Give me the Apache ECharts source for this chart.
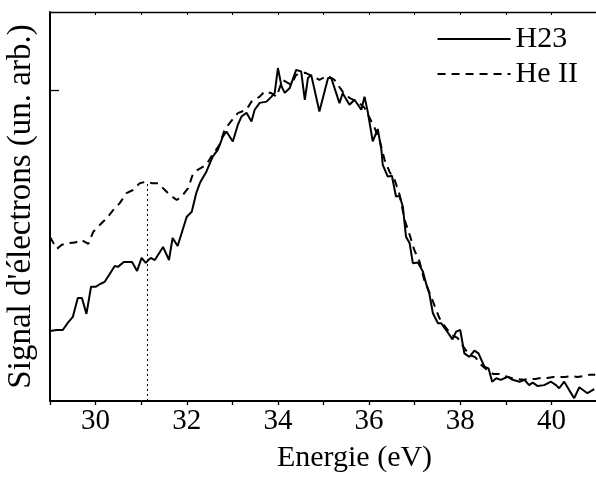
<!DOCTYPE html>
<html>
<head>
<meta charset="utf-8">
<script src="https://cdn.jsdelivr.net/npm/echarts@6/dist/echarts.min.js"></script>
<style>
  html, body { margin: 0; padding: 0; background: #fff; }
  #chart { width: 596px; height: 478px; }
</style>
</head>
<body>
<div id="chart"></div>
<script>
// Photoelectron spectra: H23 harmonic vs He II line (arbitrary units)
const h23Energy = [28.89, 29.00, 29.15, 29.28, 29.39, 29.50, 29.61, 29.70, 29.80, 29.90,
  30.00, 30.10, 30.20, 30.31, 30.42, 30.49, 30.62, 30.80, 30.91, 31.01,
  31.10, 31.21, 31.30, 31.48, 31.61, 31.69, 31.80, 32.00, 32.11, 32.21,
  32.29, 32.43, 32.57, 32.68, 32.79, 32.87, 33.01, 33.12, 33.20, 33.31,
  33.42, 33.49, 33.60, 33.75, 33.86, 33.93, 34.00, 34.08, 34.15, 34.26,
  34.40, 34.51, 34.59, 34.66, 34.73, 34.91, 35.10, 35.17, 35.35, 35.42,
  35.57, 35.68, 35.83, 35.90, 35.97, 36.08, 36.19, 36.27, 36.30, 36.41,
  36.50, 36.59, 36.67, 36.74, 36.81, 36.89, 36.96, 37.07, 37.18, 37.25,
  37.32, 37.40, 37.51, 37.58, 37.69, 37.83, 37.91, 38.00, 38.09, 38.20,
  38.31, 38.40, 38.53, 38.62, 38.70, 38.79, 38.89, 39.04, 39.15, 39.30,
  39.41, 39.51, 39.59, 39.70, 39.84, 39.99, 40.10, 40.17, 40.28, 40.39,
  40.50, 40.61, 40.79, 40.94];
const h23Signal = [19.0, 22.5, 22.8, 22.8, 25.1, 27.0, 33.1, 33.1, 28.0, 36.7,
  36.7, 37.6, 38.3, 40.8, 43.4, 43.1, 44.7, 44.7, 41.8, 46.0,
  44.4, 46.0, 45.3, 49.5, 45.3, 52.4, 49.8, 59.2, 60.8, 66.9,
  70.1, 73.7, 78.5, 80.7, 84.9, 86.6, 83.4, 88.7, 91.4, 92.6,
  89.8, 93.6, 95.8, 96.2, 97.8, 99.0, 107.0, 101.1, 99.0, 100.6,
  106.4, 105.9, 96.8, 103.8, 104.8, 93.0, 103.8, 103.8, 95.7, 98.9,
  95.2, 96.8, 93.6, 97.8, 93.0, 83.4, 87.4, 80.7, 75.9, 72.1,
  72.4, 65.7, 65.9, 62.5, 52.8, 50.7, 44.3, 44.5, 41.6, 37.8,
  34.6, 28.2, 25.0, 25.0, 22.8, 19.8, 22.3, 22.8, 15.3, 14.2,
  16.2, 15.3, 11.0, 10.5, 6.2, 7.3, 6.8, 7.8, 6.8, 6.2,
  6.8, 5.1, 5.9, 4.8, 5.1, 6.2, 5.1, 4.1, 6.2, 3.5,
  0.9, 4.4, 2.5, 3.8];

const heEnergy = [29.00, 29.15, 29.26, 29.40, 29.55, 29.68, 29.84, 29.95, 30.13, 30.24,
  30.39, 30.53, 30.68, 30.82, 30.97, 31.12, 31.23, 31.37, 31.52, 31.63,
  31.78, 31.89, 32.03, 32.13, 32.24, 32.43, 32.54, 32.72, 32.83, 32.94,
  33.12, 33.31, 33.42, 33.60, 33.71, 33.86, 33.97, 34.10, 34.29, 34.40,
  34.59, 34.74, 34.91, 35.09, 35.24, 35.42, 35.57, 35.75, 35.90, 36.01,
  36.12, 36.23, 36.34, 36.45, 36.56, 36.67, 36.78, 36.89, 36.99, 37.11,
  37.21, 37.32, 37.43, 37.54, 37.67, 37.81, 37.94, 38.07, 38.20, 38.33,
  38.46, 38.59, 38.72, 38.86, 38.99, 39.12, 39.25, 39.38, 39.51, 39.65,
  39.78, 39.91, 40.04, 40.17, 40.30, 40.44, 40.57, 40.70, 40.83, 40.96];
const heSignal = [52.7, 48.9, 50.2, 50.7, 50.9, 51.8, 50.5, 54.4, 57.1, 58.7,
  61.4, 63.6, 66.8, 67.8, 70.0, 70.5, 70.0, 70.0, 67.8, 66.2,
  64.6, 65.7, 68.4, 72.7, 74.3, 75.9, 78.6, 82.3, 87.1, 89.3,
  92.5, 93.6, 96.2, 97.8, 99.5, 98.9, 97.8, 103.2, 101.6, 104.8,
  105.5, 104.5, 103.2, 104.5, 103.2, 99.4, 97.4, 96.1, 94.2, 91.0,
  87.8, 83.9, 77.5, 73.6, 71.1, 66.2, 58.2, 53.4, 48.6, 44.7,
  38.9, 35.0, 30.9, 26.7, 23.8, 21.2, 20.3, 17.4, 14.8, 14.1,
  11.6, 10.0, 8.7, 8.7, 8.0, 7.4, 7.1, 6.8, 7.1, 7.1,
  7.4, 7.4, 7.7, 7.7, 7.7, 8.0, 7.7, 8.0, 8.4, 8.4];

// He II peak position, marked by a dotted drop line
const markerEnergy = 31.14;
const markerSignal = 70.5;

const seriesNames = ['H23', 'He II'];
const xTitle = 'Energie (eV)';
const yTitle = "Signal d'électrons (un. arb.)";
const xRange = [29, 41];
const yRange = [0, 125];
const yTick = 100;

const pairs = (xs, ys) => xs.map((x, i) => [x, ys[i]]);
const FONT = 'Liberation Serif';

const chart = echarts.init(document.getElementById('chart'), null, { renderer: 'canvas' });
chart.setOption({
  animation: false,
  backgroundColor: '#fff',
  textStyle: { fontFamily: FONT, color: '#000' },
  grid: { left: 50, top: 12, width: 547, height: 389, containLabel: false, outerBoundsMode: 'none' },
  legend: {
    data: seriesNames,
    orient: 'vertical',
    right: 13,
    top: 19,
    itemWidth: 73,
    itemHeight: 14,
    itemGap: 5,
    itemStyle: { opacity: 0 },
    textStyle: { fontFamily: FONT, fontSize: 30, color: '#000', lineHeight: 30 }
  },
  xAxis: [{
    type: 'value',
    position: 'bottom',
    min: xRange[0], max: xRange[1], interval: 1,
    name: xTitle,
    nameLocation: 'middle',
    nameGap: 42,
    nameTextStyle: { fontFamily: FONT, fontSize: 30, color: '#000', padding: [0, 0, 0, 62] },
    axisLine: { lineStyle: { color: '#000', width: 2 } },
    axisTick: { show: true, inside: false, length: 4, lineStyle: { color: '#000', width: 1.3 } },
    axisLabel: {
      fontFamily: FONT, fontSize: 29, color: '#000', margin: 6,
      formatter: v => (v % 2 === 0 ? String(v) : '')
    },
    splitLine: { show: false }
  }, {
    type: 'value',
    position: 'top',
    min: xRange[0], max: xRange[1], interval: 1,
    axisLine: { lineStyle: { color: '#000', width: 1.3 } },
    axisTick: { show: true, inside: true, length: 3, lineStyle: { color: '#000', width: 1 } },
    axisLabel: { show: false },
    splitLine: { show: false }
  }],
  yAxis: {
    type: 'value',
    min: yRange[0], max: yRange[1], interval: yTick,
    name: yTitle,
    nameLocation: 'middle',
    nameRotate: 90,
    nameGap: 12,
    nameTextStyle: { fontFamily: FONT, fontSize: 33, color: '#000' },
    axisLine: { show: true, lineStyle: { color: '#000', width: 2 } },
    axisTick: { show: true, inside: true, length: 9, customValues: [yTick], lineStyle: { color: '#000', width: 1.3 } },
    axisLabel: { show: false },
    splitLine: { show: false }
  },
  series: [{
    name: 'He II',
    type: 'line',
    data: pairs(heEnergy, heSignal),
    showSymbol: false,
    symbol: 'none',
    lineStyle: { color: '#000', width: 2, type: [8, 6] },
    itemStyle: { color: '#000' },
    markLine: {
      silent: true,
      symbol: ['none', 'none'],
      label: { show: false },
      lineStyle: { color: '#000', width: 1, type: [2, 3] },
      data: [[{ coord: [markerEnergy, 0] }, { coord: [markerEnergy, markerSignal] }]]
    }
  }, {
    name: 'H23',
    type: 'line',
    data: pairs(h23Energy, h23Signal),
    showSymbol: false,
    symbol: 'none',
    clip: false,
    lineStyle: { color: '#000', width: 2 },
    itemStyle: { color: '#000' }
  }]
});
</script>
</body>
</html>
